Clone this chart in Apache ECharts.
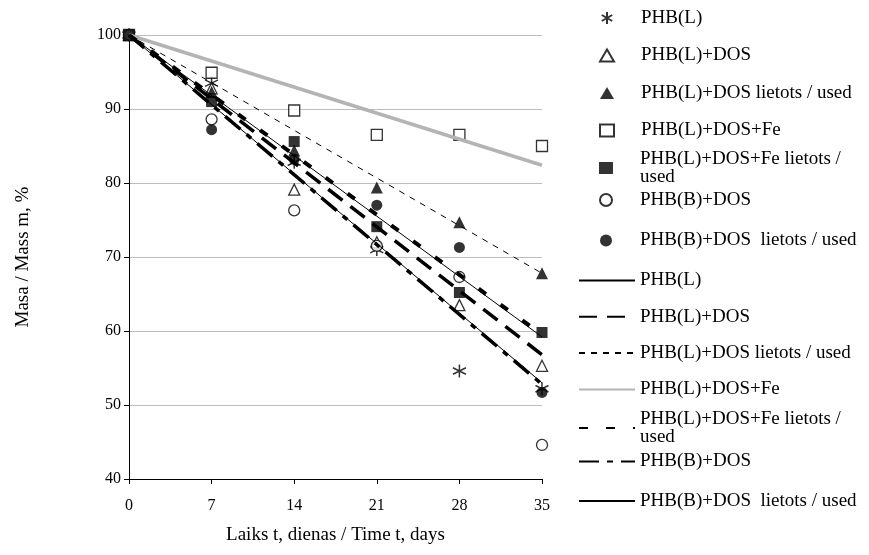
<!DOCTYPE html>
<html>
<head>
<meta charset="utf-8">
<script src="https://cdn.jsdelivr.net/npm/echarts@6/dist/echarts.min.js"></script>
<style>
  html, body { margin: 0; padding: 0; background: #fff; }
  #chart { width: 869px; height: 555px; }
</style>
</head>
<body>
<div id="chart"></div>
<script>
// Sampling days
const days = [0, 7, 14, 21, 28, 35];

// Sample names
const names = [
  'PHB(L)',
  'PHB(L)+DOS',
  'PHB(L)+DOS lietots / used',
  'PHB(L)+DOS+Fe',
  'PHB(L)+DOS+Fe lietots / used',
  'PHB(B)+DOS',
  'PHB(B)+DOS  lietots / used'
];

// Measured mass, %
const phbL          = [100, 93.5, 82.8, 71.0, 54.6, 52.2];
const phbLDos       = [100, 92.8, 79.1, 72.0, 63.5, 55.3];
const phbLDosUsed   = [100, 92.3, 84.4, 79.4, 74.7, 67.8];
const phbLDosFe     = [100, 94.9, 89.8, 86.5, 86.5, 85.0];
const phbLDosFeUsed = [100, 91.0, 85.6, 74.1, 65.2, 59.8];
const phbBDos       = [100, 88.6, 76.3, 71.5, 67.3, 44.6];
const phbBDosUsed   = [100, 87.2, 83.2, 77.0, 71.3, 51.7];

// Linear trend lines: value at day 0 and at day 35
const trendDays  = [0, 35];
const trendStart = [100, 100, 100, 100, 100, 100, 100];
const trendEnd   = [53.0, 56.8, 67.8, 82.4, 59.5, 52.8, 59.2];

// Axis ranges
const yMin = 40, yMax = 100, yStep = 10;
const xMin = 0, xMax = 35, xStep = 7;

const measured = [phbL, phbLDos, phbLDosUsed, phbLDosFe, phbLDosFeUsed, phbBDos, phbBDosUsed];

const FONT = "'Liberation Serif', 'Times New Roman', serif";
const TREND = ' (trend)';
const LEGEND_FONT = 19;

const asterisk = 'path://M0,-1L0,1M-0.87,-0.5L0.87,0.5M-0.87,0.5L0.87,-0.5';

const markerStyles = [
  { symbol: asterisk, symbolSize: 13, itemStyle: { color: 'none', borderColor: '#000', borderWidth: 1.5 } },
  { symbol: 'triangle', symbolSize: 11, itemStyle: { color: '#fff', borderColor: '#000', borderWidth: 1.3 } },
  { symbol: 'triangle', symbolSize: 12, itemStyle: { color: '#000', borderColor: '#000', borderWidth: 0 } },
  { symbol: 'rect', symbolSize: 11, itemStyle: { color: '#fff', borderColor: '#000', borderWidth: 1.3 } },
  { symbol: 'rect', symbolSize: 11, itemStyle: { color: '#000', borderColor: '#000', borderWidth: 0 } },
  { symbol: 'circle', symbolSize: 11, itemStyle: { color: '#fff', borderColor: '#000', borderWidth: 1.3 } },
  { symbol: 'circle', symbolSize: 11, itemStyle: { color: '#000', borderColor: '#000', borderWidth: 0 } }
];

const lineStyles = [
  { color: '#000', width: 1, type: 'solid' },
  { color: '#000', width: 3.5, type: [18, 10] },
  { color: '#000', width: 1, type: [6, 6] },
  { color: '#b4b4b4', width: 3.5, type: 'solid' },
  { color: '#000', width: 4, type: [9, 18] },
  { color: '#000', width: 3.5, type: [20, 8, 6, 8] },
  { color: '#000', width: 1, type: 'solid' }
];

const series = [];
names.forEach((name, i) => {
  series.push(Object.assign({
    name: name,
    type: 'scatter',
    z: 2,
    data: days.map((d, k) => [d, measured[i][k]])
  }, markerStyles[i]));
});
names.forEach((name, i) => {
  series.push({
    name: name + TREND,
    type: 'line',
    z: 3,
    symbol: 'none',
    showSymbol: false,
    silent: true,
    lineStyle: lineStyles[i],
    itemStyle: { color: lineStyles[i].color },
    data: trendDays.map((d, k) => [d, k === 0 ? trendStart[i] : trendEnd[i]])
  });
});

function legendBlock(list, opt) {
  return Object.assign({
    orient: 'vertical',
    padding: 0,
    selectedMode: false,
    data: list,
    formatter: n => n.replace(TREND, ''),
    textStyle: { fontFamily: FONT, fontSize: LEGEND_FONT, color: '#000', lineHeight: 20 }
  }, opt);
}

const wrapped = 'PHB(L)+DOS+Fe lietots / used';
const wrapFmt = n => n.replace(TREND, '').replace('lietots / used', 'lietots /\nused');
const markerText = { fontFamily: FONT, fontSize: LEGEND_FONT, color: '#000', lineHeight: 20, padding: [0, 0, 0, 22] };
// line keys show only the stroke, not a point symbol
const hideDot = { opacity: 0 };

const legends = [
  // marker keys
  legendBlock(names.slice(0, 4), {
    left: 599, top: 8, itemGap: 17.5, itemWidth: 14, itemHeight: 12, textStyle: markerText
  }),
  legendBlock([wrapped], {
    left: 599, top: 141, itemWidth: 14, itemHeight: 12, formatter: wrapFmt,
    textStyle: { fontFamily: FONT, fontSize: LEGEND_FONT, color: '#000', lineHeight: 18, padding: [18, 0, 0, 22] }
  }),
  legendBlock(names.slice(5, 7), {
    left: 599, top: 190, itemGap: 20.5, itemWidth: 14, itemHeight: 12, textStyle: markerText
  }),
  // trend line keys
  legendBlock(names.slice(0, 4).map(n => n + TREND), {
    left: 578, top: 270.5, itemGap: 16.3, itemWidth: 56, itemHeight: 14, itemStyle: hideDot
  }),
  legendBlock([wrapped + TREND], {
    left: 578, top: 401, itemWidth: 56, itemHeight: 14, formatter: wrapFmt, itemStyle: hideDot,
    textStyle: { fontFamily: FONT, fontSize: LEGEND_FONT, color: '#000', lineHeight: 18, padding: [18, 0, 0, 0] }
  }),
  legendBlock(names.slice(5, 7).map(n => n + TREND), {
    left: 578, top: 451.5, itemGap: 19.5, itemWidth: 56, itemHeight: 14, itemStyle: hideDot
  })
];

const chart = echarts.init(document.getElementById('chart'), null, { renderer: 'canvas' });
chart.setOption({
  animation: false,
  backgroundColor: '#fff',
  textStyle: { fontFamily: FONT },
  grid: { left: 129, right: 327, top: 35, bottom: 76, containLabel: false },
  legend: legends,
  xAxis: {
    type: 'value',
    min: xMin, max: xMax, interval: xStep,
    name: 'Laiks t, dienas / Time t, days',
    nameLocation: 'middle',
    nameGap: 47,
    nameTextStyle: { fontFamily: FONT, fontSize: 19, color: '#000' },
    axisLine: { lineStyle: { color: '#000', width: 1 } },
    axisTick: { show: true, inside: false, length: 5, lineStyle: { color: '#000' } },
    axisLabel: { fontFamily: FONT, fontSize: 16, color: '#000', margin: 19 },
    splitLine: { show: false }
  },
  yAxis: {
    type: 'value',
    min: yMin, max: yMax, interval: yStep,
    name: 'Masa / Mass m, %',
    nameLocation: 'middle',
    nameGap: 96,
    nameRotate: 90,
    nameTextStyle: { fontFamily: FONT, fontSize: 19, color: '#000' },
    axisLine: { show: true, lineStyle: { color: '#000', width: 1 } },
    axisTick: { show: true, inside: false, length: 5, lineStyle: { color: '#000' } },
    axisLabel: { fontFamily: FONT, fontSize: 16, color: '#000', margin: 8 },
    splitLine: { show: true, lineStyle: { color: '#bdbdbd', width: 1 } }
  },
  series: series
});
</script>
</body>
</html>
